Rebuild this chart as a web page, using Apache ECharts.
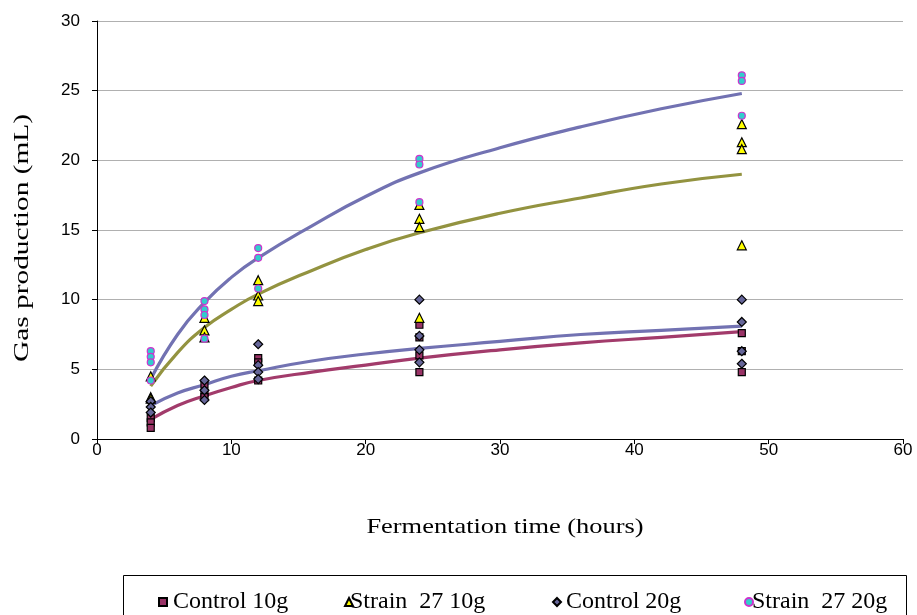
<!DOCTYPE html>
<html>
<head>
<meta charset="utf-8">
<script src="https://cdn.jsdelivr.net/npm/echarts@6/dist/echarts.min.js"></script>
<style>html,body{margin:0;padding:0;background:#fff;}#c{width:917px;height:615px;}</style>
</head>
<body>
<div id="c"></div>
<script>
// Replicate measurements (hours, mL)
const control10 = [[4,1.5],[4,1.2],[4,0.8],[8,3.9],[8,3.3],[8,3.0],[12,5.8],[12,5.5],[12,4.2],[24,8.2],[24,7.3],[24,6.0],[24,4.8],[48,7.6],[48,6.3],[48,4.8]];
const strain10 = [[4,4.5],[4,3.0],[4,2.9],[8,8.7],[8,7.8],[8,7.3],[12,11.4],[12,10.3],[12,9.9],[24,16.8],[24,15.8],[24,15.2],[24,8.7],[48,22.6],[48,21.3],[48,20.8],[48,13.9]];
const control20 = [[4,2.7],[4,2.3],[4,1.9],[8,4.2],[8,3.5],[8,2.8],[12,6.8],[12,5.3],[12,4.8],[12,4.3],[24,10.0],[24,7.4],[24,6.4],[24,5.5],[48,10.0],[48,8.4],[48,6.3],[48,5.4]];
const strain20 = [[4,6.3],[4,5.9],[4,5.5],[4,4.2],[8,9.9],[8,9.3],[8,8.9],[8,7.2],[12,13.7],[12,13.0],[12,10.8],[24,20.1],[24,19.7],[24,17.0],[48,26.1],[48,25.7],[48,23.2]];
// Trend lines
const trendX = [4,6,8,10,12,16,20,24,30,36,42,48];
const trendStrain20 = [4.3,7.5,9.8,11.6,13.0,15.3,17.4,19.1,20.9,22.4,23.7,24.8];
const trendStrain10 = [3.8,6.2,8.0,9.3,10.4,12.1,13.6,14.8,16.2,17.3,18.3,19.0];
const trendControl20 = [2.4,3.3,3.9,4.5,4.9,5.6,6.1,6.5,7.0,7.5,7.8,8.1];
const trendControl10 = [1.4,2.4,3.1,3.7,4.2,4.8,5.3,5.8,6.4,6.9,7.3,7.7];
const legendNames = ['Control 10g','Strain  27 10g','Control 20g','Strain  27 20g'];
const xTitle = 'Fermentation time (hours)';
const yTitle = 'Gas production (mL)';

const pair = (xs, ys) => xs.map((x,i)=>[x, ys[i]]);
const chart = echarts.init(document.getElementById('c'));
const axisFont = {fontFamily:'Liberation Sans, Arial, sans-serif', fontSize:17, color:'#000'};
const serif = 'Liberation Serif, Times New Roman, serif';
const lineSeries = (data, color) => ({type:'line', data, smooth:true, showSymbol:false, symbol:'none', lineStyle:{color, width:3.2}, z:2, silent:true});
const scatter = (name, data, symbol, fill, border, size) => ({type:'scatter', name, data, symbol, symbolSize:size, itemStyle:{color:fill, borderColor:border, borderWidth:1.2, opacity:1}, z:5});
const legendAt = (name, left, pad) => ({data:[name], left, top:585, itemWidth:8, itemHeight:8, itemGap:0, textStyle:{fontFamily:serif, fontSize:24, color:'#000', padding:[0,0,0,pad]}, selectedMode:false});
chart.setOption({
  animation:false,
  backgroundColor:'#fff',
  grid:{left:97, right:14, top:21, bottom:176},
  xAxis:{type:'value', min:0, max:60, interval:10,
    axisLine:{lineStyle:{color:'#000', width:1}}, axisTick:{show:true, length:5, lineStyle:{color:'#000'}},
    axisLabel:Object.assign({margin:3}, axisFont), splitLine:{show:false}},
  yAxis:{type:'value', min:0, max:30, interval:5,
    axisLine:{show:true, lineStyle:{color:'#000', width:1}}, axisTick:{show:true, length:5, lineStyle:{color:'#000'}},
    axisLabel:Object.assign({margin:17}, axisFont), splitLine:{lineStyle:{color:'#b0b0b0', width:1}}},
  legend:[legendAt(legendNames[0],153,1), legendAt(legendNames[1],339,-8), legendAt(legendNames[2],547,0), legendAt(legendNames[3],739,-6)],
  graphic:[
    {type:'rect', shape:{x:123.5, y:575.5, width:783, height:60}, style:{fill:'none', stroke:'#000', lineWidth:1}},
    {type:'text', x:505, y:527, scaleX:1.2, style:{text:xTitle, font:'22px ' + serif, fill:'#000', textAlign:'center', textVerticalAlign:'middle'}},
    {type:'text', x:22, y:238, rotation:Math.PI/2, scaleX:1.4, style:{text:yTitle, font:'21px ' + serif, fill:'#000', textAlign:'center', textVerticalAlign:'middle'}}
  ],
  series:[
    lineSeries(pair(trendX, trendControl10), '#a23b6b'),
    lineSeries(pair(trendX, trendControl20), '#7272b2'),
    lineSeries(pair(trendX, trendStrain10), '#939340'),
    lineSeries(pair(trendX, trendStrain20), '#7272b2'),
    scatter(legendNames[0], control10, 'rect', '#993366', '#000', 7),
    scatter(legendNames[1], strain10, 'triangle', '#ffff00', '#000', 9),
    scatter(legendNames[2], control20, 'diamond', '#666699', '#000', 9),
    scatter(legendNames[3], strain20, 'circle', '#33cccc', '#cc33cc', 7)
  ]
});
</script>
</body>
</html>
